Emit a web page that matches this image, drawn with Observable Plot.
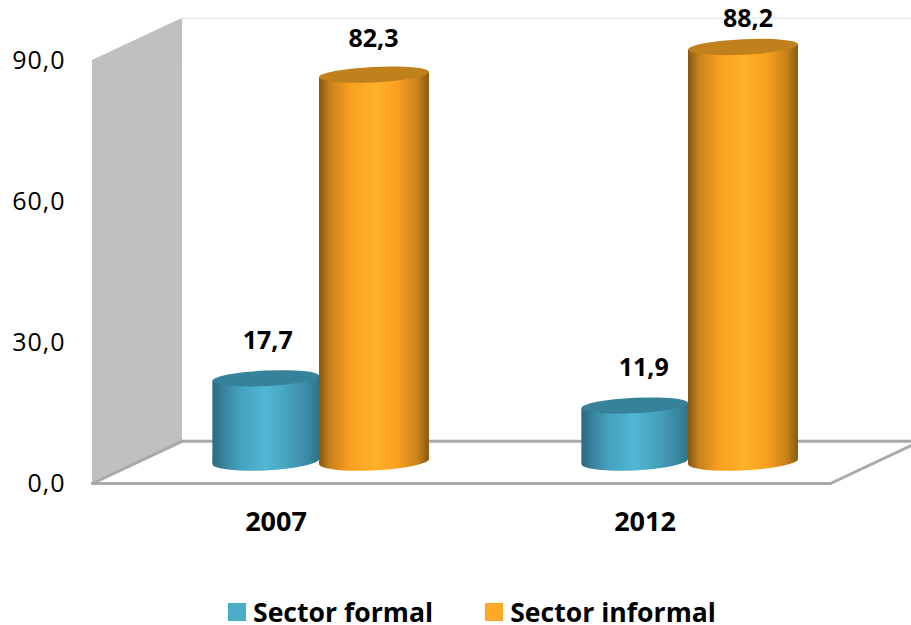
<!DOCTYPE html>
<html><head><meta charset="utf-8">
<script src="https://cdn.jsdelivr.net/npm/d3@7"></script>
<script src="https://cdn.jsdelivr.net/npm/@observablehq/plot@0.6"></script>
<style>
html,body{margin:0;padding:0;background:#fff;overflow:hidden}
#legend{display:flex;align-items:center;font:bold 26.6px "Open Sans",sans-serif;color:#000;position:absolute;left:228px;top:599px;white-space:nowrap;height:26px}
#legend span{display:block;height:26px;line-height:26px}
#legend i{display:inline-block;width:18px;height:18px;margin-right:7px}
.cyl rect{transform-box:fill-box;transform-origin:center;transform:skewY(-2.7deg)}
</style></head><body>
<div id="chart"></div>
<div id="legend"></div>
<script>
const years = ["2007", "2012"];
const seriesNames = ["Sector formal", "Sector informal"];
const formal = [17.7, 11.9];
const informal = [82.3, 88.2];
const yTicks = [0, 30, 60, 90];
const depthX = 0.244;   // floor depth, in band units
const depthY = 9;       // floor depth, in value units
const wallTop = 90;
const floorEnd = 2;
const formalWidth = 0.289;
const informalWidth = 0.298;

const fmt = v => v.toFixed(1).replace(".", ",");
const H = 590;
const font = '"Open Sans",sans-serif';

const teal = years.map((y, i) => ({y, v: formal[i], x1: i + 0.5 - formalWidth, x2: i + 0.5}));
const orange = years.map((y, i) => ({y, v: informal[i], x1: i + 0.5, x2: i + 0.5 + informalWidth}));

const EY = 1.65; // ellipse half-height, in value units
const SHIFT = {dx: 42.5, dy: -21.5};

function cylinder(data, grad, cap) {
  const bw = (data === teal ? formalWidth : informalWidth) * 369 / 2;
  return [
    Plot.rect(data, {x1: "x1", x2: "x2", y1: -EY * 1.15, y2: EY * 1.15, fill: `url(#${grad})`, rx: bw, ry: 9, className: "cyl", ...SHIFT}),
    Plot.rect(data, {x1: "x1", x2: "x2", y1: 0, y2: "v", fill: `url(#${grad})`, className: "cyl", ...SHIFT}),
    Plot.rect(data, {x1: "x1", x2: "x2", y1: d => d.v - EY, y2: d => d.v + EY, fill: cap, rx: bw, ry: 8, className: "cyl", ...SHIFT})
  ];
}

function valueLabel(d, dx, dy) {
  return Plot.text([d], {x: e => (e.x1 + e.x2) / 2, y: "v", text: e => fmt(e.v), dx, dy, fontWeight: "bold", fontSize: 25, fill: "#000", fontFamily: font});
}

const plot = Plot.plot({
  width: 911, height: H,
  marginLeft: 92, marginRight: 81, marginTop: 60, marginBottom: H - 483,
  x: {type: "linear", domain: [0, floorEnd]},
  y: {domain: [0, wallTop]},
  style: {background: "#fff", overflow: "hidden"},
  marks: [
    // left wall
    Plot.areaY([0, depthX], {x: d => d, y1: d => d / depthX * depthY, y2: d => wallTop + d / depthX * depthY, fill: "#c0c0c0"}),
    // back wall top edge
    Plot.line([depthX, floorEnd + depthX], {x: d => d, y: wallTop + depthY, stroke: "#eeeeee", strokeWidth: 2}),
    // floor
    Plot.line([[0, 0], [floorEnd, 0]], {x: "0", y: "1", stroke: "#a9a9a9", strokeWidth: 3}),
    Plot.line([[depthX, depthY], [floorEnd + depthX, depthY]], {x: "0", y: "1", stroke: "#a9a9a9", strokeWidth: 3}),
    Plot.line([[0, 0], [depthX, depthY]], {x: "0", y: "1", stroke: "#a9a9a9", strokeWidth: 3}),
    Plot.line([[floorEnd, 0], [floorEnd + depthX, depthY]], {x: "0", y: "1", stroke: "#a9a9a9", strokeWidth: 3}),
    // cylinders
    ...cylinder(teal, "gt", "#37829b"),
    ...cylinder(orange, "go", "#c0801c"),
    // labels
    valueLabel(teal[0], 44, -59),
    valueLabel(teal[1], 51, -60),
    valueLabel(orange[0], 41.5, -58),
    valueLabel(orange[1], 47, -50),
    // axes
    Plot.axisY({ticks: yTicks, tickFormat: fmt, tickSize: 0, tickPadding: 27, fontSize: 25, fill: "#000", fontFamily: font, label: null, className: "ya"}),
    Plot.axisX({ticks: years.map((y, i) => i + 0.5), tickFormat: v => years[Math.floor(v)], tickSize: 0, tickPadding: 28.5, dx: -1, fontSize: 27, fontWeight: "bold", fill: "#000", fontFamily: font, label: null})
  ]
});

function addGrad(id, stops) {
  const svg = d3.select(plot);
  const g = svg.insert("defs", ":first-child").append("linearGradient").attr("id", id).attr("x1", 0).attr("x2", 1).attr("y1", 0).attr("y2", 0);
  stops.forEach(([o, c]) => g.append("stop").attr("offset", o).attr("stop-color", c));
}
addGrad("gt", [[0, "#2c6a80"], [0.1, "#37829b"], [0.25, "#45a0bc"], [0.5, "#50b7d5"], [0.72, "#45a0bc"], [0.9, "#3a88a2"], [1, "#2f7389"]]);
addGrad("go", [[0, "#85590f"], [0.1, "#c8811c"], [0.28, "#f99f20"], [0.5, "#ffb128"], [0.72, "#f99f20"], [0.9, "#c8811c"], [1, "#85590f"]]);
d3.select(plot).selectAll(".ya text").style("letter-spacing", "1px");
document.getElementById("chart").append(plot);

const legendColors = ["#4bacc6", "#ffa726"];
const lg = d3.select("#legend");
seriesNames.forEach((n, i) => {
  lg.append("i").style("background", legendColors[i]);
  lg.append("span").text(n).style("margin-right", i === 0 ? "52px" : "0");
});
</script>
</body></html>
